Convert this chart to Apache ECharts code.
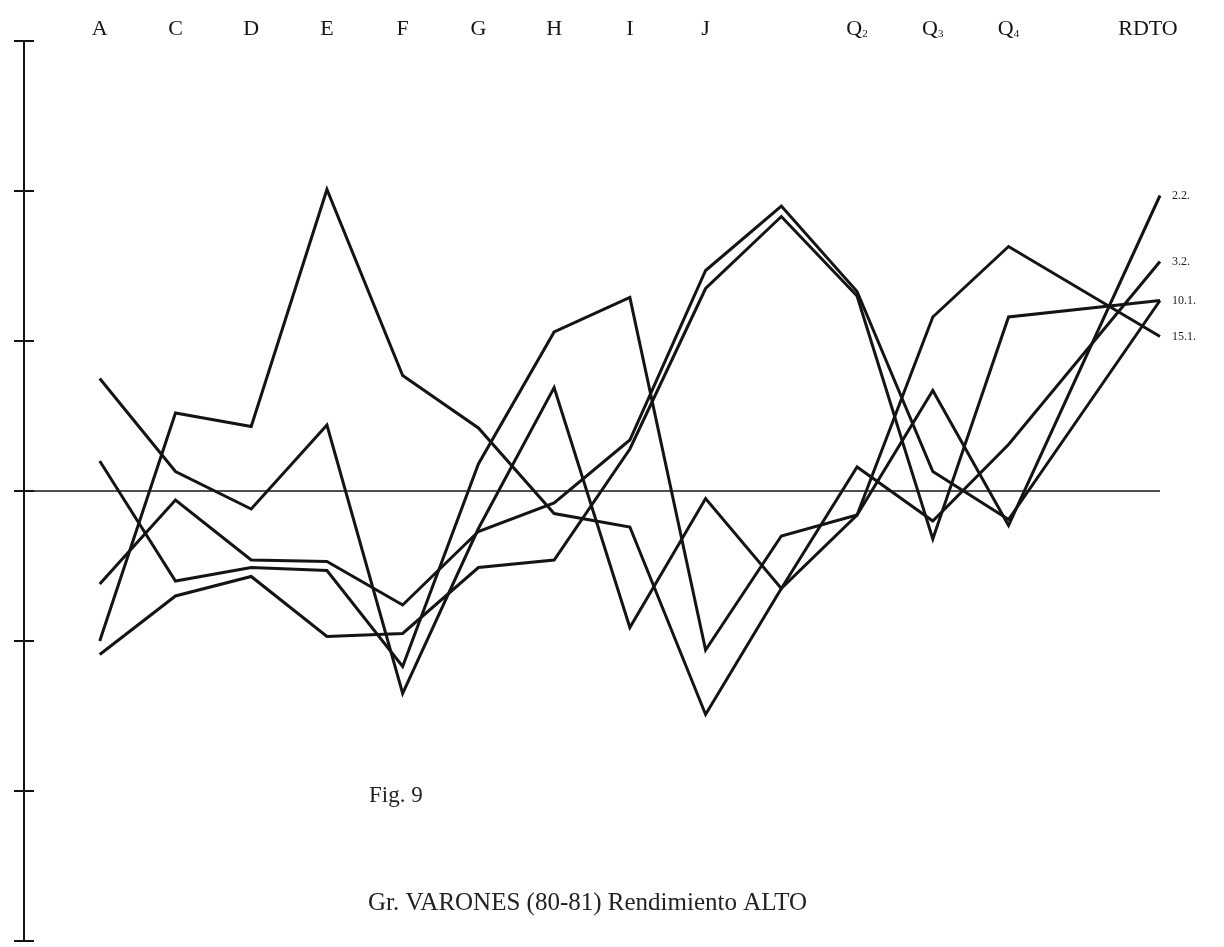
<!DOCTYPE html>
<html>
<head>
<meta charset="utf-8">
<script src="https://cdn.jsdelivr.net/npm/echarts@6/dist/echarts.min.js"></script>
<style>
html,body{margin:0;padding:0;background:#fff;}
#c{width:1224px;height:947px;}
</style>
</head>
<body>
<div id="c"></div>
<script>
// Categories (first slot = axis position, blank slots = unlabeled columns)
const categories = ['', 'A', 'C', 'D', 'E', 'F', 'G', 'H', 'I', 'J', ' ', 'Q2', 'Q3', 'Q4', '  ', 'RDTO'];
const yTicks = [-3, -2, -1, 0, 1, 2, 3];

// Series values
const s22  = [null, -1.00,  0.52,  0.43,  2.01,  0.77,  0.42, -0.15, -0.24, -1.49, -0.65, -0.16,  0.67, -0.23, null, 1.97];
const s32  = [null,  0.75,  0.13, -0.12,  0.44, -1.35, -0.25,  0.69, -0.91, -0.05, -0.65,  0.16, -0.20,  0.31, null, 1.53];
const s101 = [null, -0.62, -0.06, -0.46, -0.47, -0.76, -0.27, -0.08,  0.34,  1.47,  1.90,  1.33,  0.13, -0.19, null, 1.27];
const s151 = [null,  0.20, -0.60, -0.51, -0.53, -1.17,  0.18,  1.06,  1.29, -1.06, -0.30, -0.16,  1.16,  1.63, null, 1.03];
const sX   = [null, -1.09, -0.70, -0.57, -0.97, -0.95, -0.51, -0.46,  0.28,  1.35,  1.83,  1.30, -0.32,  1.16, null, 1.27];

const seriesList = [
  {name: '2.2.',  data: s22,  label: true},
  {name: '3.2.',  data: s32,  label: true},
  {name: '10.1.', data: s101, label: true},
  {name: '15.1.', data: s151, label: true},
  {name: '10.1.b', data: sX,  label: false}
];

const SERIF = '"Liberation Serif", "DejaVu Serif", serif';
const INK = '#141414';

const chart = echarts.init(document.getElementById('c'), null, {renderer: 'canvas'});

const series = seriesList.map((s, i) => ({
  name: s.name,
  type: 'line',
  data: s.data,
  connectNulls: true,
  symbol: 'none',
  silent: true,
  lineStyle: {color: INK, width: 3, join: 'miter'},
  endLabel: {
    show: s.label,
    formatter: s.name,
    distance: 12,
    fontFamily: SERIF,
    fontSize: 12,
    color: '#222'
  },
  markLine: i === 0 ? {
    silent: true,
    symbol: 'none',
    label: {show: false},
    lineStyle: {color: INK, width: 1.6, type: 'solid'},
    data: [{yAxis: 0}]
  } : undefined,
  z: 3
}));

const yAxisBase = {
  type: 'value',
  min: yTicks[0],
  max: yTicks[yTicks.length - 1],
  interval: 1,
  position: 'left',
  axisLabel: {show: false},
  splitLine: {show: false}
};

chart.setOption({
  animation: false,
  backgroundColor: '#fff',
  title: [
    {text: 'Fig. 9', left: 369, top: 784, padding: 0,
     textStyle: {fontFamily: SERIF, fontSize: 23, fontWeight: 'normal', color: '#222'}},
    {text: 'Gr. VARONES (80-81) Rendimiento ALTO', left: 368, top: 891, padding: 0,
     textStyle: {fontFamily: SERIF, fontSize: 25, fontWeight: 'normal', color: '#222'}}
  ],
  grid: {left: 24, right: 64, top: 41, height: 900},
  xAxis: {
    type: 'category',
    data: categories,
    boundaryGap: false,
    position: 'top',
    axisLine: {show: false},
    axisTick: {show: false},
    splitLine: {show: false},
    axisLabel: {
      interval: 0,
      margin: 1,
      color: INK,
      fontFamily: SERIF,
      fontSize: 22,
      formatter: function (v) {
        const m = /^Q(\d)$/.exec(v);
        if (m) return '{q|Q}{s|' + m[1] + '}';
        if (v === 'RDTO') return '{r|' + v + '}';
        return v;
      },
      rich: {
        q: {fontFamily: SERIF, fontSize: 22, color: INK, verticalAlign: 'bottom', lineHeight: 24},
        s: {fontFamily: SERIF, fontSize: 11, color: INK, verticalAlign: 'bottom', lineHeight: 13},
        r: {fontFamily: SERIF, fontSize: 22, color: INK, padding: [0, 24, 0, 0]}
      }
    }
  },
  yAxis: [
    Object.assign({}, yAxisBase, {
      axisLine: {show: true, onZero: false, lineStyle: {color: INK, width: 2}},
      axisTick: {show: true, length: 10, lineStyle: {color: INK, width: 2}}
    }),
    Object.assign({}, yAxisBase, {
      axisLine: {show: false},
      axisTick: {show: true, inside: true, length: 10, lineStyle: {color: INK, width: 2}}
    })
  ],
  series: series
});
</script>
</body>
</html>
